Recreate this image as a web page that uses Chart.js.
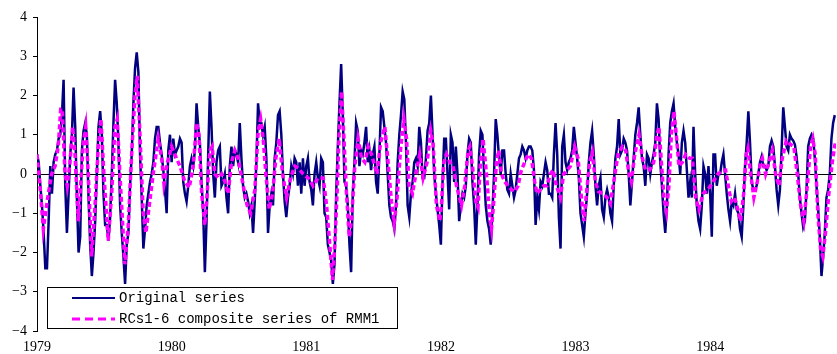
<!DOCTYPE html>
<html>
<head>
<meta charset="utf-8">
<title>RMM1</title>
<script src="https://cdn.jsdelivr.net/npm/chart.js"></script>
<style>
  html, body { margin: 0; padding: 0; background: #fff; }
</style>
</head>
<body>
<canvas id="grafico" width="837" height="354"></canvas>
<script>
// tick labels
const yearTicks = [1979, 1980, 1981, 1982, 1983, 1984];
const valueTicks = [-4, -3, -2, -1, 0, 1, 2, 3, 4];

// original series: evenly spaced samples starting Jan 1979
const originalStart = 1979;
const originalPerYear = 81;
const originalValues = [
  0.5, 0.3, -0.3, -0.8, -1.5, -2.4, -2.4, -1.2, 0.2, -0.5,
  0.3, 0.5, 0.6, 0.9, 1.0, 1.5, 2.4, -0.3, -1.5, -0.5,
  0.5, 1.0, 2.2, 1.2, -0.6, -2.0, -1.6, 0.6, 1.1, 1.3,
  1.0, -0.6, -1.8, -2.6, -2.0, -1.2, 0.0, 1.2, 1.6, 1.0,
  -0.5, -1.3, -1.3, -1.7, -1.1, 0.0, 1.3, 2.4, 1.8, 0.8,
  -0.8, -1.5, -2.1, -2.8, -1.8, -1.5, -0.3, 0.5, 1.8, 2.7,
  3.1, 2.6, 0.5, -0.6, -1.9, -1.4, -0.8, -0.5, -0.2, 0.0,
  0.3, 0.9, 1.2, 1.2, 0.8, 0.5, 0.1, -0.4, -1.0, 0.6,
  1.0, 0.3, 0.9, 0.5, 0.6, 0.7, 0.9, 0.8, -0.2, -0.5,
  -0.7, -0.3, 0.2, 0.4, 0.2, 0.6, 1.8, 1.2, 0.8, -0.2,
  -1.0, -2.5, -1.2, 0.5, 2.1, 1.2, 0.0, -0.6, 0.3, 0.6,
  0.7, -0.3, -0.2, 0.0, -0.6, -1.0, 0.2, 0.7, 0.2, 0.6,
  0.5, 0.3, 1.3, 0.4, -0.3, -0.6, -0.5, -0.7, -1.0, -0.8,
  -1.5, -0.7, 0.3, 1.8, 1.3, 1.3, 1.0, 1.2, 0.4, -1.5,
  -0.8, -0.5, -0.8, 0.4, 0.8, 1.5, 1.6, 1.0, 0.0, -0.7,
  -1.1, -0.6, -0.3, 0.2, 0.0, 0.4, 0.3, -0.3,
  0.3, -0.5, 0.4, -0.3, 0.2, 0.4, -0.2, -0.4, -0.8, 0.0,
  0.3, -0.1, -0.3, 0.4, 0.3, -1.0, -1.1, -1.8, -2.0, -2.2,
  -2.8, -2.3, -0.5, 0.7, 1.8, 2.8, 1.5, -0.2, -0.3, -0.8,
  -1.8, -2.5, -0.5, 0.3, 1.3, 1.1, 0.2, 0.6, 0.5, 0.8,
  1.2, 0.3, 0.6, 0.1, 0.5, 0.7, -0.2, -0.5, 0.5, 1.7,
  1.6, 1.2, 0.8, 0.0, -0.8, -1.1, -1.2, -1.4, -0.8, 0.3,
  1.0, 1.5, 2.1, 1.9, 0.8, -0.8, -1.1, -0.5, -0.2, 0.3,
  0.4, 0.2, 1.2, 0.8, -0.1, -0.1, 0.4, 1.1,
  1.3, 2.0, 1.0, 0.0, -0.5, -0.9, -1.3, -1.8, -0.2, 0.9,
  0.9, 0.0, -0.9, 1.0, 0.8, -0.2, 0.7, 0.0, -1.2, -0.8,
  -0.5, -0.6, -0.3, 0.5, 0.9, 0.8, -0.2, -0.8, -1.8, -0.8,
  0.5, 1.1, 1.0, 0.0, -0.8, -1.2, -1.4, -1.8, -1.0, 0.0,
  1.4, 1.0, 0.4, 0.0, 0.6, 0.6, 0.0, -0.4, -0.5, 0.0,
  -0.3, -0.6, -0.4, 0.0, 0.4, 0.5, 0.7, 0.6, 0.4, 0.6,
  0.7, 0.7, 0.6, 0.1, -1.3, -0.6, -0.9, -0.2, -0.3, 0.0,
  0.3, 0.1, -0.5, -0.5, -0.6, 0.5, 1.3,
  0.5, -1.1, -1.9, 0.7, 1.0, 0.3, 0.1, 0.3, 0.4, 0.6,
  1.2, 0.8, 0.4, -0.1, -1.0, -1.3, -1.6, -1.0, -0.5, 0.3,
  0.8, 1.1, 0.5, -0.3, -0.8, -0.3, -0.1, -0.9, -1.1, -0.6,
  -0.4, -0.6, -1.0, -1.2, -0.3, 0.4, 0.7, 1.4, 0.5, 0.6,
  0.9, 0.8, 0.6, 0.0, -0.8, -0.2, 0.4, 1.0, 1.3, 1.7,
  1.0, 0.4, 0.2, -0.3, 0.5, 0.4, 0.0, 0.3, 0.5, 0.8,
  1.8, 1.4, 0.3, -0.3, -1.0, -1.5, -0.8, 0.5, 1.3, 1.6,
  1.8, 1.2, 0.8, 0.5, 0.0, 0.8, 1.1, 0.8, 0.1, -0.6,
  -0.2, -0.6, 1.2, 0.0, -0.8, -1.2, -1.4, -0.8, 0.2, 0.0,
  -0.5, 0.2, -0.5, -1.6, 0.5, 0.5, -0.3, 0.0, 0.0, 0.3,
  0.5, 0.0, -0.5, -0.9, -1.2, -0.7, -0.8, -0.5, -0.9, -1.0,
  -1.4, -1.6, -0.8, 0.2, 0.8, 1.6, 0.8, -0.2, -0.4, -0.4,
  -0.3, 0.0, 0.3, 0.45, 0.2, 0.2, 0.1, 0.2, 0.7, 0.85,
  0.7, 0.2, -0.4, -0.8, -0.4, 0.6, 1.7, 1.2, 0.7, 0.6,
  1.0, 0.9, 0.85, 0.75, 0.45, 0.0, -0.6, -1.0, -1.35, -1.2,
  -0.4, 0.7, 0.9, 1.0, 0.9, 0.4, -0.3, -0.9, -1.6, -2.6,
  -2.1, -1.5, -0.6, -0.4, 0.0, 0.9, 1.3, 1.5
];

// RCs1-6 composite series (turning points, decimal years)
const compositeYears = [
  1979.000, 1979.022, 1979.047, 1979.084, 1979.109, 1979.134, 1979.158, 1979.176, 1979.188, 1979.208,
  1979.225, 1979.245, 1979.265, 1979.282, 1979.307, 1979.324, 1979.344, 1979.362, 1979.381, 1979.406,
  1979.431, 1979.455, 1979.475, 1979.497, 1979.529, 1979.555, 1979.579, 1979.596, 1979.616, 1979.653,
  1979.678, 1979.703, 1979.728, 1979.745, 1979.765, 1979.789, 1979.809, 1979.834, 1979.863, 1979.901,
  1979.926, 1979.943, 1979.969, 1980.000, 1980.024, 1980.062, 1980.099, 1980.131, 1980.160, 1980.186,
  1980.203, 1980.223, 1980.247, 1980.264, 1980.284, 1980.301, 1980.321, 1980.346, 1980.371, 1980.396,
  1980.420, 1980.445, 1980.470, 1980.494, 1980.532, 1980.561, 1980.587, 1980.618, 1980.643, 1980.661,
  1980.680, 1980.700, 1980.725, 1980.750, 1980.774, 1980.799, 1980.824, 1980.854, 1980.883, 1980.915,
  1980.940, 1980.977, 1981.014, 1981.051, 1981.088, 1981.126, 1981.151, 1981.175, 1981.195, 1981.212,
  1981.229, 1981.244, 1981.262, 1981.279, 1981.299, 1981.319, 1981.336, 1981.361, 1981.385, 1981.411,
  1981.435, 1981.460, 1981.485, 1981.509, 1981.526, 1981.552, 1981.584, 1981.608, 1981.633, 1981.653,
  1981.675, 1981.700, 1981.725, 1981.745, 1981.764, 1981.789, 1981.814, 1981.843, 1981.868, 1981.898,
  1981.925, 1981.942, 1981.967, 1981.992, 1982.004, 1982.022, 1982.042, 1982.066, 1982.091, 1982.116,
  1982.153, 1982.177, 1982.202, 1982.215, 1982.235, 1982.259, 1982.276, 1982.294, 1982.313, 1982.339,
  1982.363, 1982.376, 1982.393, 1982.413, 1982.430, 1982.450, 1982.474, 1982.499, 1982.524, 1982.549,
  1982.573, 1982.598, 1982.623, 1982.647, 1982.673, 1982.697, 1982.714, 1982.739, 1982.764, 1982.788,
  1982.814, 1982.833, 1982.858, 1982.888, 1982.912, 1982.937, 1982.962, 1982.994, 1983.019, 1983.044,
  1983.063, 1983.081, 1983.105, 1983.125, 1983.148, 1983.172, 1983.204, 1983.234, 1983.259, 1983.284,
  1983.316, 1983.348, 1983.373, 1983.397, 1983.415, 1983.440, 1983.472, 1983.497, 1983.521, 1983.551,
  1983.581, 1983.605, 1983.620, 1983.638, 1983.657, 1983.675, 1983.694, 1983.712, 1983.731, 1983.749,
  1983.768, 1983.794, 1983.818, 1983.848, 1983.868, 1983.892, 1983.917, 1983.947, 1983.984, 1984.021,
  1984.058, 1984.095, 1984.115, 1984.140, 1984.157, 1984.182, 1984.206, 1984.226, 1984.249, 1984.269,
  1984.281, 1984.301, 1984.325, 1984.350, 1984.375, 1984.388, 1984.412, 1984.437, 1984.462, 1984.486,
  1984.511, 1984.536, 1984.566, 1984.598, 1984.622, 1984.647, 1984.672, 1984.696, 1984.722, 1984.746,
  1984.763, 1984.781, 1984.800, 1984.820, 1984.837, 1984.857, 1984.882, 1984.907, 1984.932
];
const compositeValues = [
  0.5, -0.3, -1.4, -0.5, 0.0, 0.2, 0.7, 1.65, 1.65, 0.0,
  -0.3, 0.3, 1.2, 0.5, -1.2, -0.3, 0.8, 1.2, 0.0, -2.1,
  -0.8, 0.7, 1.4, 0.0, -1.7, -0.5, 1.2, 1.4, 0.0, -2.3,
  -1.3, 0.5, 2.0, 2.5, 1.0, -1.0, -1.5, -0.8, 0.0, 0.9,
  0.4, -0.25, 0.3, 0.7, 0.5, 0.2, -0.2, -0.35, 0.2, 1.3,
  1.0, -0.5, -1.3, -0.5, 0.6, 0.7, 0.0, -0.1, 0.0, -0.2,
  -0.5, 0.3, 0.6, 0.4, -0.3, -0.8, -1.0, -0.4, 1.1, 1.4,
  0.9, 0.0, -0.9, -0.5, 0.4, 0.9, 0.0, -0.6, -0.1, 0.2,
  0.15, 0.0, -0.1, -0.3, -0.1, -0.1, -0.8, -1.8, -2.7, -1.8,
  -0.5, 1.0, 2.1, 1.0, -0.5, -1.6, -1.2, 0.2, 0.9, 0.4,
  0.3, 0.7, 0.5, 0.2, 0.0, 0.8, 1.2, 0.3, -0.7, -1.25,
  -0.6, 0.6, 1.4, 0.9, -0.3, -0.5, 0.0, 0.5, -0.1, 0.3,
  1.1, 0.8, -0.8, -1.2, -0.8, 0.3, 0.5, 0.3, 0.2, -0.3,
  -0.8, -0.3, 0.6, 0.7, 0.2, -0.7, -0.85, 0.3, 0.9, 0.0,
  -1.1, -1.4, -0.7, 0.3, 0.6, 0.0, -0.2, -0.3, -0.4, -0.45,
  -0.3, 0.1, 0.3, 0.5, 0.4, -0.2, -0.5, -0.4, -0.3, -0.3,
  0.0, 0.1, -0.3, -0.6, 0.0, 0.1, 0.2, 0.7, 0.4, -0.6,
  -1.2, -0.5, 0.3, 0.55, -0.2, -0.45, -0.5, -0.6, -0.75, -0.2,
  0.5, 0.7, 0.6, 0.0, -0.2, 0.5, 1.0, 0.4, 0.1, 0.1,
  0.3, 1.0, 1.2, 0.3, -0.6, -0.95, -0.3, 1.0, 1.6, 1.0,
  0.2, 0.3, 0.5, 0.4, 0.4, -0.6, -0.9, -0.5, -0.4, -0.2,
  0.0, 0.1, 0.1, -0.4, -0.7, -0.6, -0.9, -1.2, -0.5, 0.5,
  0.65, 0.0, -0.6, -0.2, 0.3, 0.4, 0.0, 0.3, 0.6, 0.0,
  -0.3, 0.4, 0.85, 0.75, 0.7, 0.0, -0.8, -1.2, -0.3, 0.7,
  0.9, 0.5, -1.0, -1.9, -2.1, -1.5, -0.5, 0.3, 0.85
];

const legendLabels = ['Original series', 'RCs1-6 composite series of RMM1'];

const originalPoints = originalValues.map((v, i) => ({ x: originalStart + i / originalPerYear, y: v }));
const compositePoints = compositeValues.map((v, i) => ({ x: compositeYears[i], y: v }));

// legend box inside the plot, bottom left
const boxLegend = {
  id: 'boxLegend',
  afterDatasetsDraw(chart) {
    const ctx = chart.ctx;
    const a = chart.chartArea;
    const left = a.left + 10, top = a.bottom - 44, w = 350, h = 41;
    ctx.save();
    ctx.fillStyle = '#fff';
    ctx.fillRect(left, top, w, h);
    ctx.strokeStyle = '#000';
    ctx.lineWidth = 1;
    ctx.strokeRect(left + 0.5, top + 0.5, w, h);
    const rows = [top + 11, top + 32];
    // original sample
    ctx.strokeStyle = '#000080';
    ctx.lineWidth = 2;
    ctx.beginPath();
    ctx.moveTo(left + 25, rows[0]);
    ctx.lineTo(left + 68, rows[0]);
    ctx.stroke();
    // composite sample
    ctx.strokeStyle = '#ff00ff';
    ctx.lineWidth = 3;
    ctx.setLineDash([8, 5]);
    ctx.beginPath();
    ctx.moveTo(left + 25, rows[1]);
    ctx.lineTo(left + 68, rows[1]);
    ctx.stroke();
    ctx.setLineDash([]);
    ctx.fillStyle = '#000';
    ctx.font = '14px "Liberation Mono", "DejaVu Sans Mono", monospace';
    ctx.textBaseline = 'middle';
    ctx.textAlign = 'left';
    ctx.fillText(legendLabels[0], left + 72, rows[0]);
    ctx.fillText(legendLabels[1], left + 72, rows[1]);
    ctx.restore();
  }
};

const serif = { family: '"Liberation Serif", "DejaVu Serif", serif', size: 14 };

const ctx = document.getElementById('grafico').getContext('2d');
const grafico = new Chart(ctx, {
  type: 'line',
  data: {
    datasets: [
      {
        label: legendLabels[0],
        data: originalPoints,
        borderColor: '#000080',
        borderWidth: 2.5,
        pointRadius: 0,
        tension: 0,
        order: 2
      },
      {
        label: legendLabels[1],
        data: compositePoints,
        borderColor: '#ff00ff',
        borderWidth: 3.5,
        borderDash: [5, 3],
        pointRadius: 0,
        tension: 0,
        order: 1
      }
    ]
  },
  options: {
    responsive: false,
    animation: false,
    devicePixelRatio: 1,
    layout: { padding: { top: 17, right: 1, left: 0, bottom: 0 } },
    plugins: { legend: { display: false }, tooltip: { enabled: false } },
    scales: {
      x: {
        type: 'linear',
        min: 1979,
        max: 1984.935,
        afterBuildTicks: s => { s.ticks = yearTicks.map(v => ({ value: v })); },
        afterFit: s => { s.height = 23; },
        grid: { display: false, drawTicks: false },
        border: { display: false },
        ticks: {
          padding: 8,
          maxRotation: 0,
          autoSkip: false,
          color: '#000',
          font: serif,
          callback: v => String(v)
        }
      },
      y: {
        min: -4,
        max: 4,
        afterBuildTicks: s => { s.ticks = valueTicks.map(v => ({ value: v })); },
        afterFit: s => { s.width = 37; },
        grid: {
          color: c => (c.tick && c.tick.value === 0) ? '#000' : 'rgba(0,0,0,0)',
          tickColor: '#000',
          tickLength: 4,
          lineWidth: 1
        },
        border: { display: true, color: '#000', width: 1 },
        ticks: {
          padding: 6,
          color: '#000',
          font: serif,
          callback: v => v < 0 ? '\u2212' + Math.abs(v) : String(v)
        }
      }
    }
  },
  plugins: [boxLegend]
});
</script>
</body>
</html>
